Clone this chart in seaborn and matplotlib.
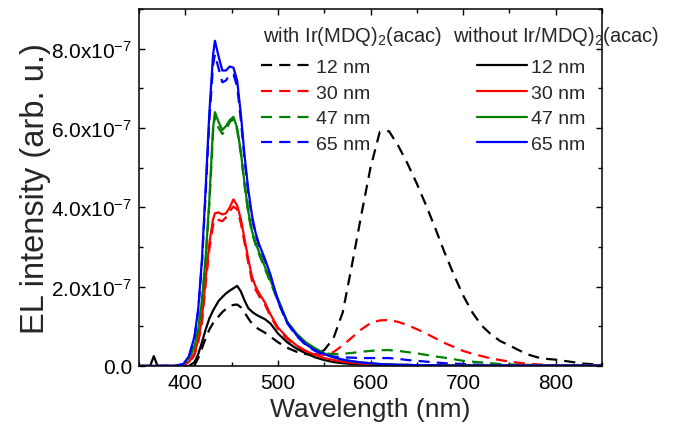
import numpy as np
import pandas as pd
import matplotlib
matplotlib.use("Agg")
import matplotlib.pyplot as plt
from matplotlib.lines import Line2D
from matplotlib.ticker import FuncFormatter, MultipleLocator
import seaborn as sns

# Wavelength grid (nm) and EL spectra in units of 1e-7 (arb. u.)
wavelength = [350, 362, 366, 370, 390, 398, 404, 410, 414, 418, 422, 426, 430, 432,
              436, 440, 444, 448, 452, 456, 460, 464, 468, 472, 476, 480, 486, 492,
              500, 510, 520, 530, 540, 550, 560, 570, 580, 590, 600, 610, 620, 630,
              640, 650, 660, 670, 680, 690, 700, 710, 720, 730, 740, 750, 760, 770,
              780, 790, 800, 815, 830, 850]

thickness = ["12 nm", "30 nm", "47 nm", "65 nm"]

# without Ir(MDQ)2(acac)
without_12 = [0, 0, 0.25, 0, 0, 0, 0, 0.1, 0.3, 0.6, 0.92, 1.2, 1.4, 1.48,
              1.64, 1.74, 1.83, 1.9, 1.96, 2.02, 1.88, 1.65, 1.46, 1.37, 1.3, 1.25, 1.18, 1.07,
              0.82, 0.6, 0.44, 0.32, 0.22, 0.15, 0.1, 0.07, 0.05, 0.04, 0.03, 0.03, 0.02, 0.02,
              0.02, 0.02, 0.01, 0.01, 0.01, 0.01, 0.01, 0.01, 0.01, 0.01, 0.01, 0.01, 0.01, 0.01,
              0.01, 0.01, 0.01, 0.01, 0.01, 0.01]
without_30 = [0, 0, 0, 0, 0, 0.02, 0.1, 0.32, 0.65, 1.2, 2.2, 3.1, 3.7, 3.85,
              3.87, 3.82, 3.85, 4.0, 4.2, 4.05, 3.7, 3.2, 2.7, 2.25, 2.0, 1.82, 1.6, 1.3,
              0.97, 0.72, 0.52, 0.38, 0.28, 0.2, 0.15, 0.11, 0.08, 0.06, 0.05, 0.04, 0.03, 0.03,
              0.02, 0.02, 0.02, 0.01, 0.01, 0.01, 0.01, 0.01, 0.01, 0.01, 0.01, 0.01, 0.01, 0.01,
              0.01, 0.01, 0.01, 0.01, 0.01, 0.01]
without_47 = [0, 0, 0, 0, 0, 0.03, 0.2, 0.5, 0.92, 1.65, 2.75, 4.2, 6.0, 6.4,
              6.15, 5.95, 6.05, 6.2, 6.28, 6.0, 5.4, 4.6, 3.9, 3.4, 3.1, 2.85, 2.5, 2.15,
              1.7, 1.12, 0.82, 0.6, 0.45, 0.32, 0.22, 0.16, 0.12, 0.09, 0.07, 0.05, 0.04, 0.03,
              0.03, 0.02, 0.02, 0.02, 0.01, 0.01, 0.01, 0.01, 0.01, 0.01, 0.01, 0.01, 0.01, 0.01,
              0.01, 0.01, 0.01, 0.01, 0.01, 0.01]
without_65 = [0, 0, 0, 0, 0.01, 0.05, 0.25, 0.75, 1.45, 2.7, 4.5, 6.4, 7.85, 8.2,
              7.8, 7.45, 7.45, 7.55, 7.52, 7.2, 6.35, 5.3, 4.45, 3.8, 3.35, 3.05, 2.7, 2.3,
              1.65, 1.1, 0.78, 0.55, 0.4, 0.3, 0.22, 0.16, 0.12, 0.09, 0.07, 0.05, 0.04, 0.03,
              0.03, 0.02, 0.02, 0.02, 0.01, 0.01, 0.01, 0.01, 0.01, 0.01, 0.01, 0.01, 0.01, 0.01,
              0.01, 0.01, 0.01, 0.01, 0.01, 0.01]

# with Ir(MDQ)2(acac)
with_12 = [0, 0, 0, 0, 0, 0, 0, 0.02, 0.2, 0.45, 0.7, 0.92, 1.08, 1.13,
           1.25, 1.36, 1.44, 1.51, 1.54, 1.55, 1.48, 1.35, 1.2, 1.07, 0.98, 0.92, 0.84, 0.74,
           0.6, 0.46, 0.36, 0.3, 0.29, 0.4, 0.7, 1.35, 2.55, 3.8, 5.0, 5.9, 5.92, 5.55,
           5.1, 4.6, 4.05, 3.47, 2.86, 2.3, 1.78, 1.35, 1.02, 0.8, 0.63, 0.52, 0.4, 0.29,
           0.22, 0.18, 0.16, 0.11, 0.06, 0.03]
with_30 = [0, 0, 0, 0, 0, 0.02, 0.08, 0.28, 0.6, 1.1, 2.05, 2.95, 3.55, 3.7,
           3.68, 3.65, 3.75, 3.9, 4.02, 3.95, 3.6, 3.1, 2.6, 2.15, 1.92, 1.75, 1.55, 1.25,
           0.93, 0.68, 0.5, 0.38, 0.3, 0.28, 0.35, 0.52, 0.72, 0.92, 1.08, 1.15, 1.16, 1.11,
           1.03, 0.93, 0.82, 0.7, 0.58, 0.48, 0.38, 0.31, 0.25, 0.19, 0.15, 0.11, 0.08, 0.06,
           0.04, 0.03, 0.02, 0.02, 0.01, 0.01]
with_47 = [0, 0, 0, 0, 0, 0.03, 0.18, 0.48, 0.9, 1.6, 2.7, 4.1, 5.9, 6.32,
           6.0, 5.85, 5.95, 6.15, 6.22, 5.95, 5.35, 4.55, 3.85, 3.35, 3.05, 2.8, 2.45, 2.1,
           1.65, 1.1, 0.8, 0.58, 0.42, 0.32, 0.3, 0.31, 0.33, 0.36, 0.38, 0.4, 0.4, 0.38,
           0.35, 0.32, 0.28, 0.24, 0.21, 0.17, 0.13, 0.11, 0.09, 0.07, 0.05, 0.04, 0.03, 0.03,
           0.02, 0.02, 0.01, 0.01, 0.01, 0.01]
with_65 = [0, 0, 0, 0, 0.01, 0.05, 0.24, 0.72, 1.4, 2.6, 4.35, 6.2, 7.6, 7.85,
           7.5, 7.15, 7.2, 7.35, 7.35, 7.05, 6.2, 5.2, 4.35, 3.72, 3.3, 3.0, 2.65, 2.25,
           1.62, 1.08, 0.76, 0.53, 0.38, 0.28, 0.24, 0.22, 0.21, 0.2, 0.2, 0.2, 0.2, 0.18,
           0.15, 0.13, 0.11, 0.09, 0.07, 0.06, 0.05, 0.04, 0.03, 0.02, 0.02, 0.02, 0.01, 0.01,
           0.01, 0.01, 0.01, 0.01, 0.01, 0.01]

SCALE = 1e-7
colors = ["black", "#ff0000", "#008000", "#0000ff"]
palette = dict(zip(thickness, colors))


def long_form(series_list, dopant):
    parts = []
    for label, series in zip(thickness, series_list):
        parts.append(pd.DataFrame({"wl": wavelength, "I": np.array(series) * SCALE,
                                   "thickness": label, "dopant": dopant}))
    return pd.concat(parts, ignore_index=True)


df_with = long_form([with_12, with_30, with_47, with_65], "with")
df_without = long_form([without_12, without_30, without_47, without_65], "without")

sns.set_style("ticks")
plt.rcParams["font.family"] = ["Liberation Sans", "DejaVu Sans"]
plt.rcParams["mathtext.fontset"] = "custom"
plt.rcParams["mathtext.rm"] = "Liberation Sans"
plt.rcParams["mathtext.it"] = "Liberation Sans:italic"
plt.rcParams["mathtext.bf"] = "Liberation Sans:bold"

fig = plt.figure(figsize=(6.76, 4.35), dpi=100)
ax = fig.add_axes([139 / 676, 1 - 367 / 435, 463 / 676, 357 / 435])

DASH = (5, 3.2)
LW = 1.6
# dashed spectra first so the solid ones sit on top
sns.lineplot(data=df_with, x="wl", y="I", hue="thickness", palette=palette,
             estimator=None, sort=False, legend=False, ax=ax, linewidth=LW)
for line in ax.get_lines():
    line.set_dashes(DASH)
sns.lineplot(data=df_without, x="wl", y="I", hue="thickness", palette=palette,
             estimator=None, sort=False, legend=False, ax=ax, linewidth=LW)

ax.set_xlim(350, 850)
ax.set_ylim(0, 9e-7)
ax.xaxis.set_major_locator(MultipleLocator(100))
ax.xaxis.set_minor_locator(MultipleLocator(50))
ax.yaxis.set_major_locator(MultipleLocator(2e-7))
ax.yaxis.set_minor_locator(MultipleLocator(1e-7))


def sci(v, pos):
    if abs(v) < 1e-12:
        return "0.0"
    return r"%.1fx10$^{\mathregular{-7}}$" % (v / 1e-7)


ax.yaxis.set_major_formatter(FuncFormatter(sci))
ax.tick_params(which="both", direction="in", top=True, right=True, width=1.0,
               labelsize=15, pad=5, color="black", labelcolor="black")
ax.tick_params(which="major", length=4.5)
ax.tick_params(which="minor", length=2.8)
for s in ax.spines.values():
    s.set_linewidth(1.1)
    s.set_color("black")

ax.set_xlabel("Wavelength (nm)", fontsize=19, labelpad=4)
ax.set_ylabel("EL intensity (arb. u.)", fontsize=23.5, labelpad=0)

# legends: doped (dashed) and undoped (solid) devices
fs_leg = 14
fs_title = 14.5
ax.text(0.268, 0.927, r"with Ir(MDQ)$_{\mathregular{2}}$(acac)", transform=ax.transAxes,
        fontsize=fs_title, ha="left", va="center")
ax.text(0.678, 0.927, r"without Ir/MDQ)$_{\mathregular{2}}$(acac)", transform=ax.transAxes,
        fontsize=fs_title, ha="left", va="center")

h_with = [Line2D([], [], color=c, lw=LW, dashes=DASH) for c in colors]
h_without = [Line2D([], [], color=c, lw=LW) for c in colors]
leg1 = ax.legend(h_with, thickness, loc="upper left", bbox_to_anchor=(0.264, 0.862),
                 frameon=False, fontsize=fs_leg, handlelength=2.5, handletextpad=0.3,
                 labelspacing=0.42, borderpad=0, borderaxespad=0)
ax.add_artist(leg1)
leg2 = ax.legend(h_without, thickness, loc="upper left", bbox_to_anchor=(0.729, 0.862),
                 frameon=False, fontsize=fs_leg, handlelength=2.6, handletextpad=0.2,
                 labelspacing=0.42, borderpad=0, borderaxespad=0)

fig.savefig("out.png", dpi=100)
